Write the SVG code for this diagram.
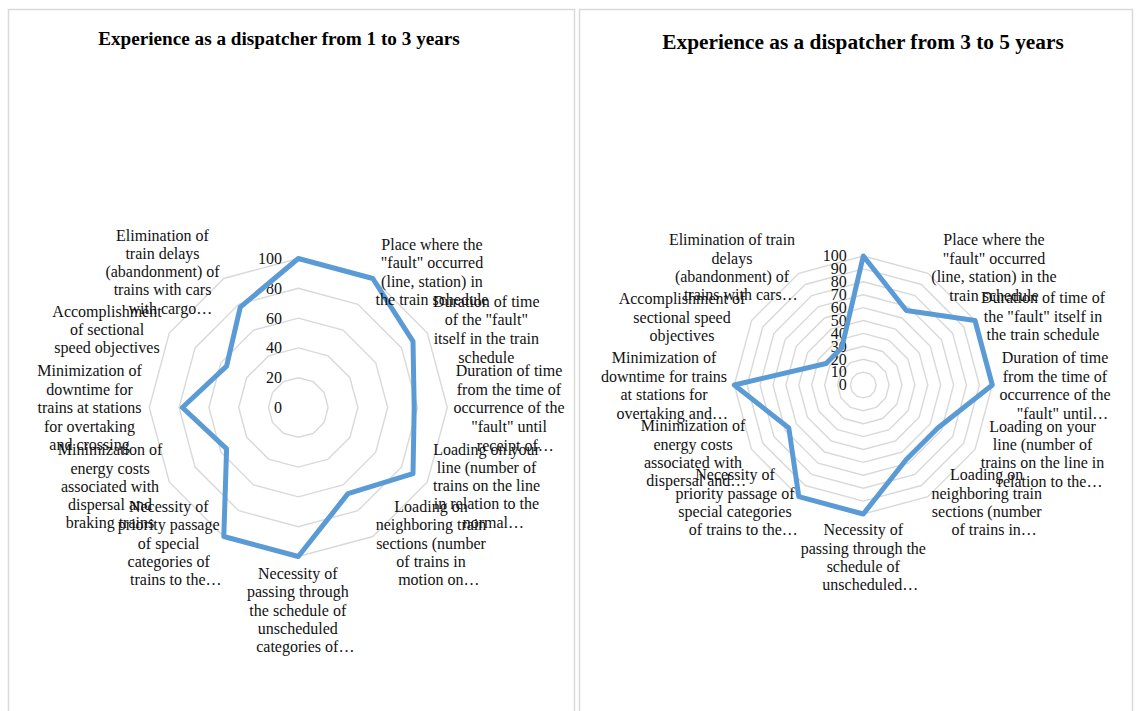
<svg xmlns="http://www.w3.org/2000/svg" xmlns:xlink="http://www.w3.org/1999/xlink" width="1136" height="711" viewBox="0 0 1136 711">
<style>
.panel{fill:#fff;stroke:#d9d9d9;stroke-width:1.5}
.ring{fill:none;stroke:#d9d9d9;stroke-width:1.4;vector-effect:non-scaling-stroke}
.series{fill:none;stroke:#5b9bd5;stroke-width:5;stroke-linejoin:round}
.lbl{font-family:"Liberation Serif","Times New Roman",serif;font-size:16px;fill:#111;text-anchor:middle}
.tick{font-family:"Liberation Serif","Times New Roman",serif;font-size:16px;fill:#111;text-anchor:end}
.title{font-family:"Liberation Serif","Times New Roman",serif;font-weight:bold;fill:#000;text-anchor:middle}
</style>
<defs>
<polygon id="ring" class="ring" points="0,-100 50,-86.6 86.6,-50 100,0 86.6,50 50,86.6 0,100 -50,86.6 -86.6,50 -100,0 -86.6,-50 -50,-86.6"/>
</defs>
<rect width="1136" height="711" fill="#fff"/>
<rect class="panel" x="8.5" y="9.5" width="566" height="715"/>
<rect class="panel" x="579.5" y="9.5" width="553" height="715"/>

<!-- LEFT CHART -->
<g id="chart-left">
<text id="title-left" class="title" x="279" y="45" font-size="19.2">Experience as a dispatcher from 1 to 3 years</text>
<g id="grid-left">
<use xlink:href="#ring" href="#ring" transform="translate(298.3,407.5) scale(0.298)"/>
<use xlink:href="#ring" href="#ring" transform="translate(298.3,407.5) scale(0.596)"/>
<use xlink:href="#ring" href="#ring" transform="translate(298.3,407.5) scale(0.894)"/>
<use xlink:href="#ring" href="#ring" transform="translate(298.3,407.5) scale(1.192)"/>
<use xlink:href="#ring" href="#ring" transform="translate(298.3,407.5) scale(1.49)"/>
</g>
<g id="ticks-left">
<text class="tick" x="282" y="413">0</text>
<text class="tick" x="282" y="383.2">20</text>
<text class="tick" x="282" y="353.4">40</text>
<text class="tick" x="282" y="323.6">60</text>
<text class="tick" x="282" y="293.8">80</text>
<text class="tick" x="282" y="264">100</text>
</g>
<g id="series-left">
<polygon class="series" points="298.3,258.5 372.8,278.5 413,341.3 414.2,407.5 413,473.7 348,493.6 298.3,556.5 223.8,536.5 226.6,448.9 182.4,407.5 226.6,366.1 240.3,307.1"/>
</g>
<g id="L1"><text class="lbl"><tspan x="432" y="250">Place where the</tspan><tspan x="432" y="268.3">"fault" occurred</tspan><tspan x="432" y="287">(line, station) in</tspan><tspan x="432" y="305">the train schedule</tspan></text></g>
<g id="L2"><text class="lbl"><tspan x="486.3" y="306.7">Duration of time</tspan><tspan x="486.3" y="325">of the "fault"</tspan><tspan x="486.3" y="344">itself in the train</tspan><tspan x="486.3" y="362.7">schedule</tspan></text></g>
<g id="L3"><text class="lbl"><tspan x="509" y="376">Duration of time</tspan><tspan x="509" y="395">from the time of</tspan><tspan x="509" y="413.3">occurrence of the</tspan><tspan x="509" y="431.7">"fault" until</tspan><tspan x="515.3" y="451">receipt of…</tspan></text></g>
<g id="L4"><text class="lbl"><tspan x="486.5" y="455">Loading on your</tspan><tspan x="486.5" y="472.7">line (number of</tspan><tspan x="486.5" y="490.7">trains on the line</tspan><tspan x="486.5" y="509.3">in relation to the</tspan><tspan x="493.3" y="527.7">normal…</tspan></text></g>
<g id="L5"><text class="lbl"><tspan x="431" y="511.7">Loading on</tspan><tspan x="431" y="530">neighboring train</tspan><tspan x="431" y="549">sections (number</tspan><tspan x="431" y="566.7">of trains in</tspan><tspan x="438.8" y="585">motion on…</tspan></text></g>
<g id="L6"><text class="lbl"><tspan x="297.8" y="579">Necessity of</tspan><tspan x="297.8" y="596.7">passing through</tspan><tspan x="297.8" y="615.7">the schedule of</tspan><tspan x="297.8" y="634">unscheduled</tspan><tspan x="305.3" y="652.3">categories of…</tspan></text></g>
<g id="L7"><text class="lbl"><tspan x="168.7" y="511.7">Necessity of</tspan><tspan x="168.7" y="530">priority passage</tspan><tspan x="168.7" y="549">of special</tspan><tspan x="168.7" y="566.7">categories of</tspan><tspan x="175.8" y="585">trains to the…</tspan></text></g>
<g id="L8"><text class="lbl"><tspan x="110" y="455">Minimization of</tspan><tspan x="110" y="473.7">energy costs</tspan><tspan x="110" y="491.7">associated with</tspan><tspan x="110" y="510">dispersal and</tspan><tspan x="110" y="528.3">braking trains</tspan></text></g>
<g id="L9"><text class="lbl"><tspan x="89.5" y="376">Minimization of</tspan><tspan x="89.5" y="394.7">downtime for</tspan><tspan x="89.5" y="413">trains at stations</tspan><tspan x="89.5" y="431.7">for overtaking</tspan><tspan x="89.5" y="450">and crossing</tspan></text></g>
<g id="L10"><text class="lbl"><tspan x="107" y="317.3">Accomplishment</tspan><tspan x="107" y="335">of sectional</tspan><tspan x="107" y="353">speed objectives</tspan></text></g>
<g id="L11"><text class="lbl"><tspan x="162.5" y="240.7">Elimination of</tspan><tspan x="162.5" y="259.3">train delays</tspan><tspan x="162.5" y="277">(abandonment) of</tspan><tspan x="162.5" y="295">trains with cars</tspan><tspan x="170.3" y="314">with cargo…</tspan></text></g>
</g>

<!-- RIGHT CHART -->
<g id="chart-right">
<text id="title-right" class="title" x="863" y="49" font-size="21.3">Experience as a dispatcher from 3 to 5 years</text>
<g id="grid-right">
<use xlink:href="#ring" href="#ring" transform="translate(863.3,385) scale(0.129)"/>
<use xlink:href="#ring" href="#ring" transform="translate(863.3,385) scale(0.258)"/>
<use xlink:href="#ring" href="#ring" transform="translate(863.3,385) scale(0.387)"/>
<use xlink:href="#ring" href="#ring" transform="translate(863.3,385) scale(0.516)"/>
<use xlink:href="#ring" href="#ring" transform="translate(863.3,385) scale(0.645)"/>
<use xlink:href="#ring" href="#ring" transform="translate(863.3,385) scale(0.774)"/>
<use xlink:href="#ring" href="#ring" transform="translate(863.3,385) scale(0.903)"/>
<use xlink:href="#ring" href="#ring" transform="translate(863.3,385) scale(1.032)"/>
<use xlink:href="#ring" href="#ring" transform="translate(863.3,385) scale(1.161)"/>
<use xlink:href="#ring" href="#ring" transform="translate(863.3,385) scale(1.29)"/>
</g>
<g id="ticks-right">
<text class="tick" x="846.7" y="390.3">0</text>
<text class="tick" x="846.7" y="377.4">10</text>
<text class="tick" x="846.7" y="364.5">20</text>
<text class="tick" x="846.7" y="351.6">30</text>
<text class="tick" x="846.7" y="338.7">40</text>
<text class="tick" x="846.7" y="325.8">50</text>
<text class="tick" x="846.7" y="312.9">60</text>
<text class="tick" x="846.7" y="300">70</text>
<text class="tick" x="846.7" y="287.1">80</text>
<text class="tick" x="846.7" y="274.2">90</text>
<text class="tick" x="846.7" y="261.3">100</text>
</g>
<g id="series-right">
<polygon class="series" points="863.3,256 906.3,310.5 975,320.5 992.3,385 937.8,428 906.3,459.5 863.3,514 798.8,496.7 788.8,428 734.3,385 826.1,363.5 841.8,347.8"/>
</g>
<g id="R1"><text class="lbl"><tspan x="994" y="245">Place where the</tspan><tspan x="994" y="264">"fault" occurred</tspan><tspan x="994" y="282">(line, station) in the</tspan><tspan x="994" y="301">train schedule</tspan></text></g>
<g id="R2"><text class="lbl"><tspan x="1043" y="303.3">Duration of time of</tspan><tspan x="1043" y="322">the "fault" itself in</tspan><tspan x="1043" y="340">the train schedule</tspan></text></g>
<g id="R3"><text class="lbl"><tspan x="1055" y="363.3">Duration of time</tspan><tspan x="1055" y="382">from the time of</tspan><tspan x="1055" y="400">occurrence of the</tspan><tspan x="1062.5" y="419">"fault" until…</tspan></text></g>
<g id="R4"><text class="lbl"><tspan x="1042.5" y="431.7">Loading on your</tspan><tspan x="1042.5" y="450">line (number of</tspan><tspan x="1042.5" y="468">trains on the line in</tspan><tspan x="1050" y="487">relation to the…</tspan></text></g>
<g id="R5"><text class="lbl"><tspan x="986.7" y="480">Loading on</tspan><tspan x="986.7" y="499">neighboring train</tspan><tspan x="986.7" y="517">sections (number</tspan><tspan x="994.2" y="535">of trains in…</tspan></text></g>
<g id="R6"><text class="lbl"><tspan x="863.3" y="535">Necessity of</tspan><tspan x="863.3" y="553.7">passing through the</tspan><tspan x="863.3" y="572">schedule of</tspan><tspan x="870.3" y="590">unscheduled…</tspan></text></g>
<g id="R7"><text class="lbl"><tspan x="735" y="480">Necessity of</tspan><tspan x="735" y="499">priority passage of</tspan><tspan x="735" y="517">special categories</tspan><tspan x="743.3" y="535">of trains to the…</tspan></text></g>
<g id="R8"><text class="lbl"><tspan x="693" y="431">Minimization of</tspan><tspan x="693" y="450">energy costs</tspan><tspan x="693" y="468">associated with</tspan><tspan x="696.3" y="486">dispersal and…</tspan></text></g>
<g id="R9"><text class="lbl"><tspan x="664" y="363.3">Minimization of</tspan><tspan x="664" y="382">downtime for trains</tspan><tspan x="664" y="400">at stations for</tspan><tspan x="672.2" y="419">overtaking and…</tspan></text></g>
<g id="R10"><text class="lbl"><tspan x="682" y="304">Accomplishment of</tspan><tspan x="682" y="322.7">sectional speed</tspan><tspan x="682" y="341">objectives</tspan></text></g>
<g id="R11"><text class="lbl"><tspan x="732" y="245">Elimination of train</tspan><tspan x="732" y="264">delays</tspan><tspan x="732" y="282">(abandonment) of</tspan><tspan x="740.8" y="300">trains with cars…</tspan></text></g>
</g>
</svg>
